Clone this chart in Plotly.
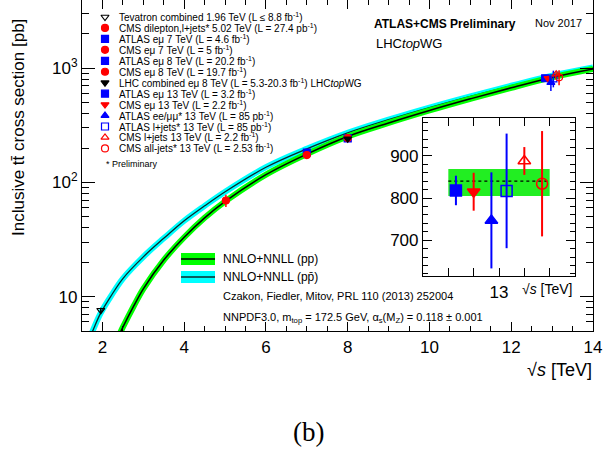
import plotly.graph_objects as go
import numpy as np

# ---------------- data ----------------
# theory curves, sqrt(s) in TeV, sigma in pb
sqrts_pp = [2.3, 2.5, 2.76, 3.0, 3.5, 4.0, 4.5, 5.02, 6.0, 7.0, 8.0, 9.0, 10.0, 11.0, 12.0, 13.0, 14.0]
sigma_pp = [3.8, 5.4, 8.2, 11.7, 20.9, 33.1, 49.0, 68.9, 117, 177.3, 252.9, 332, 427, 540, 675, 831.8, 984.5]
sqrts_ppbar = [1.7, 1.8, 1.96, 2.2, 2.5, 3.0, 3.5, 4.0, 4.5, 5.04, 6.0, 7.0, 8.0, 9.0, 10.0, 11.0, 12.0, 13.0, 14.0]
sigma_ppbar = [4.4, 5.4, 7.2, 10.0, 14.4, 22.3, 32.4, 46.2, 62.4, 84.6, 136, 197, 272, 355, 453, 568, 703, 860, 1015]

# measurements
meas_names = [
    "Tevatron combined 1.96 TeV (L \u2264 8.8 fb<sup>-1</sup>)",
    "CMS dilepton,l+jets* 5.02 TeV (L = 27.4 pb<sup>-1</sup>)",
    "ATLAS e\u03bc 7 TeV (L = 4.6 fb<sup>-1</sup>)",
    "CMS e\u03bc 7 TeV (L = 5 fb<sup>-1</sup>)",
    "ATLAS e\u03bc 8 TeV (L = 20.2 fb<sup>-1</sup>)",
    "CMS e\u03bc 8 TeV (L = 19.7 fb<sup>-1</sup>)",
    "LHC combined e\u03bc 8 TeV (L = 5.3-20.3 fb<sup>-1</sup>) LHC<i>top</i>WG",
    "ATLAS e\u03bc 13 TeV (L = 3.2 fb<sup>-1</sup>)",
    "CMS e\u03bc 13 TeV (L = 2.2 fb<sup>-1</sup>)",
    "ATLAS ee/\u03bc\u03bc* 13 TeV (L = 85 pb<sup>-1</sup>)",
    "ATLAS l+jets* 13 TeV (L = 85 pb<sup>-1</sup>)",
    "CMS l+jets 13 TeV (L = 2.2 fb<sup>-1</sup>)",
    "CMS all-jets* 13 TeV (L = 2.53 fb<sup>-1</sup>)",
]
meas_sqrts = [1.96, 5.02, 7.0, 7.0, 8.0, 8.0, 8.0, 12.83, 12.9, 12.97, 13.03, 13.1, 13.17]
meas_sigma = [7.60, 69.5, 182.9, 173.6, 242.9, 244.9, 241.5, 818, 815, 747, 817, 888, 834]
meas_err = [0.41, 8.4, 7.1, 8.5, 8.7, 9.6, 8.5, 35, 45, 114, 136, 33, 125]
meas_symbol = ["triangle-down-open", "circle", "square", "circle", "square", "circle", "triangle-down",
               "square", "triangle-down", "triangle-up", "square-open", "triangle-up-open", "circle-open"]
meas_color = ["black", "red", "blue", "red", "blue", "red", "black",
              "blue", "red", "blue", "blue", "red", "red"]
inset_first = 7  # 13 TeV measurements shown in inset

# theory at 13 TeV for inset
th13_center = 840
th13_low = 805
th13_high = 869
th13_xrange = [12.8, 13.2]

# ---------------- geometry helpers ----------------
W, H = 614, 456
PL, PR, PT, PB = 82, 593, 0, 331
PW, PH = PR - PL, PB - PT


def px(x, y):
    return (x - PL) / PW, 1 - (y - PT) / PH


FONT = "Liberation Sans"
fig = go.Figure()

# theory curves
fig.add_trace(go.Scatter(x=sqrts_ppbar, y=sigma_ppbar, mode="lines", line=dict(color="#00ffff", width=6, shape="spline"),
                         showlegend=False, hoverinfo="skip"))
fig.add_trace(go.Scatter(x=sqrts_ppbar, y=sigma_ppbar, mode="lines", line=dict(color="#0a2a2a", width=1.3, shape="spline"),
                         showlegend=False, hoverinfo="skip"))
fig.add_trace(go.Scatter(x=sqrts_pp, y=sigma_pp, mode="lines", line=dict(color="#00ff00", width=6, shape="spline"),
                         showlegend=False, hoverinfo="skip"))
fig.add_trace(go.Scatter(x=sqrts_pp, y=sigma_pp, mode="lines", line=dict(color="black", width=1.5, shape="spline"),
                         showlegend=False, hoverinfo="skip"))

# measurements in main plot
for i in range(len(meas_names)):
    fig.add_trace(go.Scatter(
        x=[meas_sqrts[i]], y=[meas_sigma[i]], mode="markers",
        marker=dict(symbol=meas_symbol[i], color=meas_color[i], size=7,
                    line=dict(color=meas_color[i], width=1.2)),
        error_y=dict(type="data", array=[meas_err[i]], color=meas_color[i], thickness=1.5, width=0),
        showlegend=False, hoverinfo="skip"))

# inset band + central line
fig.add_trace(go.Scatter(x=[th13_xrange[0], th13_xrange[1], th13_xrange[1], th13_xrange[0]],
                         y=[th13_low, th13_low, th13_high, th13_high], fill="toself", fillcolor="#22ee22",
                         line=dict(width=0), mode="lines", xaxis="x2", yaxis="y2", showlegend=False, hoverinfo="skip"))
fig.add_trace(go.Scatter(x=th13_xrange, y=[th13_center, th13_center], mode="lines",
                         line=dict(color="black", width=1.2, dash="dot"), xaxis="x2", yaxis="y2",
                         showlegend=False, hoverinfo="skip"))
for i in range(inset_first, len(meas_names)):
    fig.add_trace(go.Scatter(
        x=[meas_sqrts[i]], y=[meas_sigma[i]], mode="markers",
        marker=dict(symbol=meas_symbol[i], color=meas_color[i], size=11,
                    line=dict(color=meas_color[i], width=1.5)),
        error_y=dict(type="data", array=[meas_err[i]], color=meas_color[i], thickness=2, width=0),
        xaxis="x2", yaxis="y2", showlegend=False, hoverinfo="skip"))

# manual legend markers (overlay axis mapped to plot area)
leg_y0, leg_dy = 17, 10.95
for i in range(len(meas_names)):
    lx, ly = px(105, leg_y0 + i * leg_dy)
    fig.add_trace(go.Scatter(x=[lx], y=[ly], mode="markers", xaxis="x3", yaxis="y3",
                             marker=dict(symbol=meas_symbol[i], color=meas_color[i], size=7,
                                         line=dict(color=meas_color[i], width=1.2)),
                             showlegend=False, hoverinfo="skip"))

annotations = []
for i, name in enumerate(meas_names):
    ax_, ay_ = px(117, leg_y0 + i * leg_dy)
    annotations.append(dict(x=ax_, y=ay_, xref="paper", yref="paper", text=name, showarrow=False,
                            xanchor="left", yanchor="middle", font=dict(family=FONT, size=10, color="black")))
ax_, ay_ = px(104, 164)
annotations.append(dict(x=ax_, y=ay_, xref="paper", yref="paper", text="* Preliminary", showarrow=False,
                        xanchor="left", yanchor="middle", font=dict(family=FONT, size=9, color="black")))


def add_text(x, y, text, size, xanchor="left", yanchor="middle", angle=0, family=FONT):
    a, b = px(x, y)
    annotations.append(dict(x=a, y=b, xref="paper", yref="paper", text=text, showarrow=False,
                            xanchor=xanchor, yanchor=yanchor, textangle=angle,
                            font=dict(family=family, size=size, color="black")))


add_text(372, 24, "<b>ATLAS+CMS Preliminary</b>", 12)
add_text(533, 23, "Nov 2017", 11)
add_text(374, 43, "LHC<i>top</i>WG", 13)
add_text(221, 259, "NNLO+NNLL (pp)", 12)
add_text(221, 277, "NNLO+NNLL (pp\u0304)", 12)
add_text(221, 296, "Czakon, Fiedler, Mitov, PRL 110 (2013) 252004", 11)
add_text(221, 318, "NNPDF3.0, m<sub>top</sub> = 172.5 GeV, \u03b1<sub>s</sub>(M<sub>Z</sub>) = 0.118 \u00b1 0.001", 11)
add_text(594, 370, "\u221a<i>s</i> [TeV]", 18, xanchor="right")
add_text(18, 128, "Inclusive tt\u0304 cross section [pb]", 17, xanchor="center", angle=-90)
add_text(574, 289, "\u221a<i>s</i> [TeV]", 14, xanchor="right")
add_text(308, 432, "(b)", 27, xanchor="center", family="Liberation Serif")

# bottom legend keys
shapes = []
for (yc, fillc, linec) in [(259, "#00ff00", "black"), (277, "#00ffff", "#0a2a2a")]:
    x0, y0 = px(181, yc - 6)
    x1, y1 = px(215, yc + 6)
    shapes.append(dict(type="rect", xref="paper", yref="paper", x0=x0, x1=x1, y0=y1, y1=y0,
                       fillcolor=fillc, line=dict(width=0)))
    xa, ya = px(181, yc)
    xb, _ = px(215, yc)
    shapes.append(dict(type="line", xref="paper", yref="paper", x0=xa, x1=xb, y0=ya, y1=ya,
                       line=dict(color=linec, width=1.5)))

# inset domain
ix0, iy_top = px(423, 118)
ix1, iy_bot = px(575, 276)

ymin_tick = [5, 6, 7, 8, 9, 20, 30, 40, 50, 60, 70, 80, 90, 200, 300, 400, 500, 600, 700, 800, 900, 2000, 3000]

fig.update_layout(
    width=W, height=H,
    margin=dict(l=PL, r=W - PR, t=PT, b=H - PB),
    paper_bgcolor="white", plot_bgcolor="rgba(0,0,0,0)",
    font=dict(family=FONT, color="black"),
    showlegend=False,
    xaxis=dict(range=[1.5, 14], tickvals=[2, 4, 6, 8, 10, 12, 14], ticks="inside", ticklen=9,
               tickcolor="black", showline=True, linecolor="black", linewidth=1.2, mirror="allticks",
               showgrid=False, zeroline=False, tickfont=dict(size=17),
               minor=dict(tickvals=list(np.arange(1.5, 14.01, 0.5)), ticks="inside", ticklen=5, tickcolor="black",
                          showgrid=False)),
    yaxis=dict(type="log", range=[np.log10(5), 3.598], tickvals=[10, 100, 1000],
               ticktext=["10", "10<sup>2</sup>", "10<sup>3</sup>"], ticks="inside", ticklen=13,
               tickcolor="black", showline=True, linecolor="black", linewidth=1.2, mirror="allticks",
               showgrid=False, zeroline=False, tickfont=dict(size=17),
               minor=dict(tickvals=ymin_tick, ticks="inside", ticklen=7, tickcolor="black", showgrid=False)),
    xaxis2=dict(domain=[ix0, ix1], anchor="y2", range=[12.7, 13.3],
                tickvals=[12.8, 12.9, 13.0, 13.1, 13.2], ticktext=["", "", "13", "", ""],
                ticks="inside", ticklen=8, tickcolor="black", showline=True, linecolor="black", linewidth=1.2,
                mirror="allticks", showgrid=False, zeroline=False, tickfont=dict(size=17)),
    yaxis2=dict(domain=[iy_bot, iy_top], anchor="x2", range=[615, 990], tickvals=[700, 800, 900],
                ticks="inside", ticklen=9, tickcolor="black", showline=True, linecolor="black", linewidth=1.2,
                mirror="allticks", showgrid=False, zeroline=False, tickfont=dict(size=17),
                minor=dict(dtick=20, ticks="inside", ticklen=5, tickcolor="black", showgrid=False)),
    xaxis3=dict(overlaying="x", range=[0, 1], visible=False, anchor="y3"),
    yaxis3=dict(overlaying="y", range=[0, 1], visible=False, anchor="x3"),
    annotations=annotations,
    shapes=shapes,
)

fig.write_html("out.html", config={"displayModeBar": False},
               post_script="document.body.style.margin='0px';")
